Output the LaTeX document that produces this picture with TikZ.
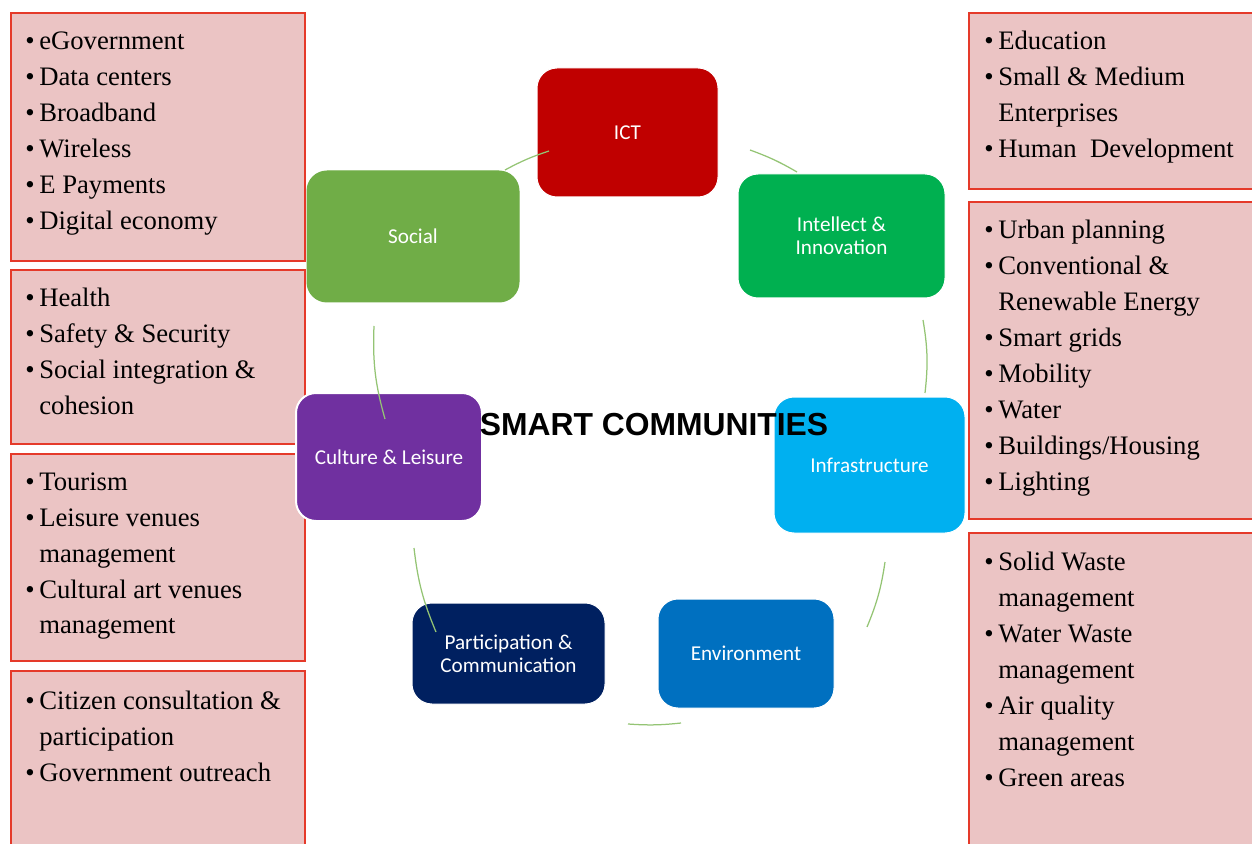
\documentclass[tikz,border=0pt]{standalone}
\usepackage{fontspec}
\setmainfont{Liberation Serif}
\newfontfamily\boxfont{Carlito}
\newfontfamily\titlefont{Liberation Sans}
\definecolor{boxpink}{HTML}{EBC4C4}
\definecolor{boxred}{HTML}{E53A2A}
\definecolor{arcgreen}{HTML}{94C474}
\definecolor{cICT}{HTML}{C00000}
\definecolor{cSocial}{HTML}{70AD47}
\definecolor{cIntel}{HTML}{00B050}
\definecolor{cInfra}{HTML}{00B0F0}
\definecolor{cCult}{HTML}{7030A0}
\definecolor{cPart}{HTML}{002060}
\definecolor{cEnv}{HTML}{0070C0}
\newcommand\itm{\makebox[8.4pt][l]{\textbullet}}
\newcommand\cnt{\hspace*{8.4pt}}
\newcommand\lst[1]{\parbox[t]{170pt}{\raggedright #1}}
\begin{document}
\begin{tikzpicture}[x=0.6pt,y=-0.6pt,
  listbox/.style={draw=boxred, fill=boxpink, line width=1.2pt, anchor=north west, inner sep=0},
  listtext/.style={anchor=base west, inner sep=0, font=\fontsize{16}{21.6}\selectfont},
  topic/.style={rounded corners=12pt, draw=white, line width=0.6pt, text=white, inner sep=0,
    font=\boxfont\fontsize{12.7}{13.8}\selectfont, align=center},
  cyc/.style={draw=arcgreen, line width=0.75pt}]
\useasboundingbox (0,0) rectangle (1252,844);
\clip (0,0) rectangle (1252,844);
% left list boxes
\node[listbox, minimum width=294*0.6pt, minimum height=248*0.6pt] (L1) at (10,12) {};
\node[listbox, minimum width=294*0.6pt, minimum height=174*0.6pt] (L2) at (10,269) {};
\node[listbox, minimum width=294*0.6pt, minimum height=207*0.6pt] (L3) at (10,453) {};
\node[listbox, minimum width=294*0.6pt, minimum height=190*0.6pt] (L4) at (10,670) {};
% right list boxes
\node[listbox, minimum width=300*0.6pt, minimum height=176*0.6pt] (R1) at (968,12) {};
\node[listbox, minimum width=300*0.6pt, minimum height=317*0.6pt] (R2) at (968,201) {};
\node[listbox, minimum width=300*0.6pt, minimum height=330*0.6pt] (R3) at (968,532) {};
% list texts
\node[listtext] (T1) at (25,50) {\lst{\itm eGovernment\\ \itm Data centers\\ \itm Broadband\\ \itm Wireless\\ \itm E Payments\\ \itm Digital economy}};
\node[listtext] (T2) at (25,307) {\lst{\itm Health\\ \itm Safety \& Security\\ \itm Social integration \&\\ \cnt cohesion}};
\node[listtext] (T3) at (25,490) {\lst{\itm Tourism\\ \itm Leisure venues\\ \cnt management\\ \itm Cultural art venues\\ \cnt management}};
\node[listtext] (T4) at (25,709) {\lst{\itm Citizen consultation \&\\ \cnt participation\\ \itm Government outreach}};
\node[listtext] (T5) at (984,50) {\lst{\itm Education\\ \itm Small \& Medium\\ \cnt Enterprises\\ \itm Human\ \ Development}};
\node[listtext] (T6) at (984,239) {\lst{\itm Urban planning\\ \itm Conventional \&\\ \cnt Renewable Energy\\ \itm Smart grids\\ \itm Mobility\\ \itm Water\\ \itm Buildings/Housing\\ \itm Lighting}};
\node[listtext] (T7) at (984,570) {\lst{\itm Solid Waste\\ \cnt management\\ \itm Water Waste\\ \cnt management\\ \itm Air quality\\ \cnt management\\ \itm Green areas}};
% topic boxes
\node[topic, fill=cICT, minimum width=181*0.6pt, minimum height=129*0.6pt] (ict) at (627.5,132.5) {ICT};
\node[topic, fill=cSocial, draw=cSocial, minimum width=212*0.6pt, minimum height=131*0.6pt] (soc) at (413,236.5) {Social};
\node[topic, fill=cIntel, minimum width=207*0.6pt, minimum height=124*0.6pt] (int) at (841.5,236) {Intellect \&\\Innovation};
\node[topic, fill=cInfra, minimum width=191*0.6pt, minimum height=136*0.6pt] (inf) at (869.5,465) {Infrastructure};
\node[topic, fill=cCult, line width=1.2pt, minimum width=186*0.6pt, minimum height=128*0.6pt] (cul) at (389,457) {Culture \& Leisure};
\node[topic, fill=cPart, minimum width=193*0.6pt, minimum height=101*0.6pt] (par) at (508.5,653.5) {Participation \&\\Communication};
\node[topic, fill=cEnv, minimum width=176*0.6pt, minimum height=109*0.6pt] (env) at (746,653.5) {Environment};
% cycle arcs
\coordinate (a1s) at (505,170); \coordinate (a1e) at (549,151);
\coordinate (a2s) at (750,150); \coordinate (a2e) at (797,172);
\coordinate (a3s) at (923,320); \coordinate (a3e) at (925,393);
\coordinate (a4s) at (885,562); \coordinate (a4e) at (867,627);
\coordinate (a5s) at (681,723); \coordinate (a5e) at (628,724);
\coordinate (a6s) at (436,632); \coordinate (a6e) at (414,548);
\coordinate (a7s) at (385,419); \coordinate (a7e) at (374,326);
\draw[cyc] (a1s) to[bend left=5] (a1e);
\draw[cyc] (a2s) to[bend left=5] (a2e);
\draw[cyc] (a3s) to[bend left=8] (a3e);
\draw[cyc] (a4s) to[bend left=7] (a4e);
\draw[cyc] (a5s) to[bend left=5] (a5e);
\draw[cyc] (a6s) to[bend left=8] (a6e);
\draw[cyc] (a7s) to[bend left=9] (a7e);
% title
\node[inner sep=0, font=\titlefont\bfseries\fontsize{19.1}{20}\selectfont] (title) at (654,425) {SMART COMMUNITIES};
\end{tikzpicture}
\end{document}
